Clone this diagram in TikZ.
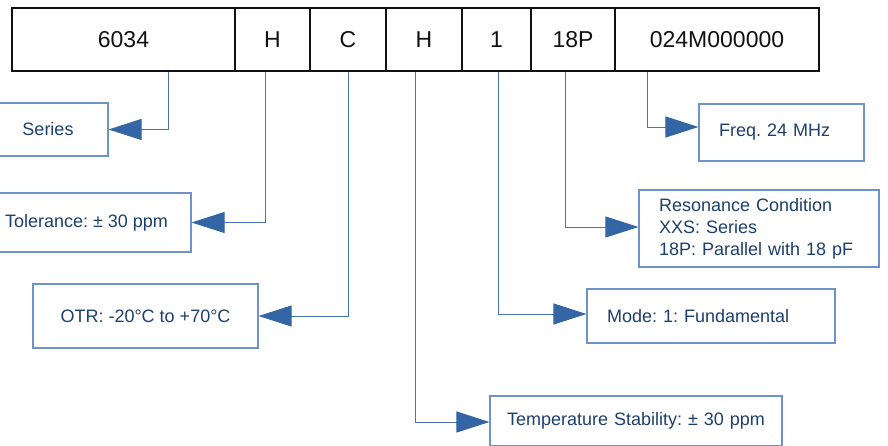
\documentclass[tikz,border=0pt]{standalone}
\usepackage{fontspec}
\setmainfont{Liberation Sans}
\usepackage{tikz}
\usetikzlibrary{arrows.meta,positioning}
\definecolor{codeblack}{HTML}{111111}
\definecolor{codeline}{HTML}{4A72B0}
\definecolor{codetip}{HTML}{3465A4}
\definecolor{codeframe}{HTML}{6F92C8}
\definecolor{codetext}{HTML}{1C3F6E}
\frenchspacing

\begin{document}
\begin{tikzpicture}[
  x=1pt,y=-1pt,
  cell/.style={draw=codeblack,line width=1.8pt,minimum height=63pt,inner sep=0pt,
               font=\fontsize{23}{27}\selectfont,text=codeblack},
  info/.style={draw=codeframe,line width=1.1pt,minimum height=55pt,inner sep=0pt,
               font=\fontsize{18}{22}\selectfont,text=codetext,align=center},
  infol/.style={info,inner xsep=20pt,align=left},
  link/.style={line width=1pt,codeline,-{Triangle[length=33pt,width=21pt,fill=codetip,color=codetip]}}
]
  \useasboundingbox (0,0) rectangle (888,445);

  % code fields
  \node[cell,minimum width=223pt] (c1) at (123.5,39.5) {6034};
  \node[cell,minimum width=75pt] (c2) at (272.5,39.5) {H};
  \node[cell,minimum width=76pt] (c3) at (348,39.5) {C};
  \node[cell,minimum width=76pt] (c4) at (424,39.5) {H};
  \node[cell,minimum width=69pt] (c5) at (496.5,39.5) {1};
  \node[cell,minimum width=84pt] (c6) at (573,39.5) {18P};
  \node[cell,minimum width=204pt] (c7) at (717,39.5) {024M000000};

  % meanings
  \node[info,minimum width=120pt,minimum height=53pt] (ser) at (48,129.5) {Series};
  \node[info,minimum width=209pt,minimum height=59pt] (tol) at (86.5,222.5) {Tolerance: ± 30 ppm};
  \node[info,minimum width=225pt,minimum height=64pt] (otr) at (145.5,316) {OTR: -20°C to +70°C};
  \node[infol,inner xsep=17pt,text width=258pt,minimum height=50pt] (stab) at (636,421) {Temperature Stability: ± 30 ppm};
  \node[infol,text width=208pt,minimum height=54pt] (mode) at (711,316) {Mode: 1: Fundamental};
  \node[infol,text width=200pt,minimum height=77pt] (res) at (759,228.5)
    {Resonance Condition\\XXS: Series\\18P: Parallel with 18 pF};
  \node[infol,text width=125pt,minimum height=57pt] (freq) at (781.5,132.5) {Freq. 24 MHz};

  \draw[link] ([xshift=44.5pt]c1.south) |- (ser.east);
  \draw[link] ([xshift=-7.5pt]c2.south) |- (tol.east);
  \draw[link] (c3.south) |- (otr.east);
  \draw[link] ([xshift=-9pt]c4.south) |- ([yshift=-1pt]stab.west);
  \draw[link] ([xshift=1.5pt]c5.south) |- ([yshift=2pt]mode.west);
  \draw[link] ([xshift=-8pt]c6.south) |- ([yshift=1.5pt]res.west);
  \draw[link] ([xshift=-70pt]c7.south) |- ([yshift=5.5pt]freq.west);
\end{tikzpicture}
\end{document}
